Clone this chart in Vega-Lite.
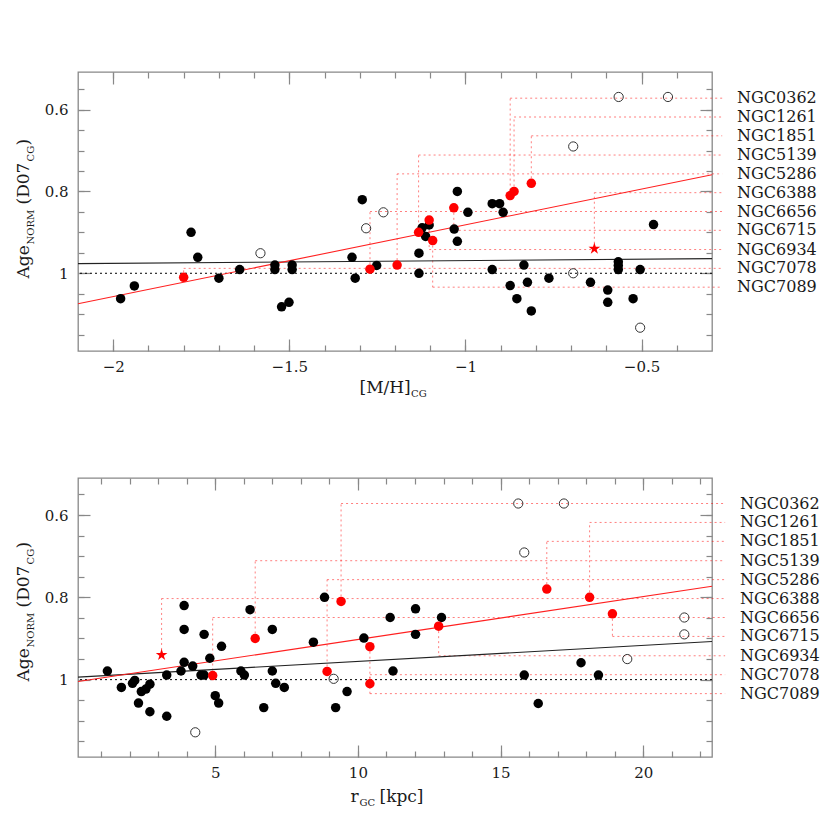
{
  "$schema": "https://vega.github.io/schema/vega-lite/v6.json",
  "autosize": {"type": "pad"},
  "padding": {"left": 13, "top": 70, "right": 5, "bottom": 5},
  "background": "white",
  "config": {
    "view": {"stroke": "#888888", "strokeWidth": 1.3},
    "axis": {"grid": false, "domain": false, "tickColor": "#888888", "tickWidth": 1.2, "labelFont": "DejaVu Serif", "labelFontSize": 15, "labelColor": "#1a1a1a", "titleFont": "DejaVu Serif", "titleFontSize": 17, "titleFontWeight": "normal", "titleColor": "#1a1a1a"},
    "text": {"font": "DejaVu Serif"}
  },
  "datasets": {
    "gc": [
      {"name": "NGC0362", "mh": -0.873, "rgc": 9.41, "age": 0.81, "slot": 0.572, "star": false},
      {"name": "NGC1261", "mh": -0.862, "rgc": 18.12, "age": 0.80, "slot": 0.618, "star": false},
      {"name": "NGC1851", "mh": -0.813, "rgc": 16.62, "age": 0.78, "slot": 0.664, "star": false},
      {"name": "NGC5139", "mh": -1.133, "rgc": 6.40, "age": 0.90, "slot": 0.711, "star": false},
      {"name": "NGC5286", "mh": -1.194, "rgc": 8.92, "age": 0.98, "slot": 0.757, "star": false},
      {"name": "NGC6388", "mh": -0.634, "rgc": 3.12, "age": 0.94, "slot": 0.803, "star": true},
      {"name": "NGC6656", "mh": -1.271, "rgc": 4.91, "age": 0.99, "slot": 0.849, "star": false},
      {"name": "NGC6715", "mh": -1.033, "rgc": 18.92, "age": 0.84, "slot": 0.895, "star": false},
      {"name": "NGC6934", "mh": -1.103, "rgc": 12.83, "age": 0.87, "slot": 0.942, "star": false},
      {"name": "NGC7078", "mh": -1.800, "rgc": 10.42, "age": 1.01, "slot": 0.988, "star": false},
      {"name": "NGC7089", "mh": -1.093, "rgc": 10.42, "age": 0.92, "slot": 1.034, "star": false}
    ],
    "topPts": [
      {"mh": -1.979, "age": 1.062, "kind": "filled"},
      {"mh": -1.940, "age": 1.031, "kind": "filled"},
      {"mh": -1.779, "age": 0.900, "kind": "filled"},
      {"mh": -1.760, "age": 0.961, "kind": "filled"},
      {"mh": -1.700, "age": 1.012, "kind": "filled"},
      {"mh": -1.641, "age": 0.991, "kind": "filled"},
      {"mh": -1.541, "age": 0.980, "kind": "filled"},
      {"mh": -1.541, "age": 0.991, "kind": "filled"},
      {"mh": -1.522, "age": 1.082, "kind": "filled"},
      {"mh": -1.501, "age": 1.071, "kind": "filled"},
      {"mh": -1.492, "age": 0.980, "kind": "filled"},
      {"mh": -1.492, "age": 0.991, "kind": "filled"},
      {"mh": -1.322, "age": 0.961, "kind": "filled"},
      {"mh": -1.313, "age": 1.012, "kind": "filled"},
      {"mh": -1.293, "age": 0.820, "kind": "filled"},
      {"mh": -1.252, "age": 0.981, "kind": "filled"},
      {"mh": -1.132, "age": 0.951, "kind": "filled"},
      {"mh": -1.132, "age": 1.000, "kind": "filled"},
      {"mh": -1.123, "age": 0.889, "kind": "filled"},
      {"mh": -1.103, "age": 0.882, "kind": "filled"},
      {"mh": -1.113, "age": 0.910, "kind": "filled"},
      {"mh": -1.032, "age": 0.892, "kind": "filled"},
      {"mh": -1.023, "age": 0.922, "kind": "filled"},
      {"mh": -1.023, "age": 0.800, "kind": "filled"},
      {"mh": -0.993, "age": 0.851, "kind": "filled"},
      {"mh": -0.924, "age": 0.830, "kind": "filled"},
      {"mh": -0.903, "age": 0.830, "kind": "filled"},
      {"mh": -0.893, "age": 0.851, "kind": "filled"},
      {"mh": -0.924, "age": 0.991, "kind": "filled"},
      {"mh": -0.834, "age": 0.980, "kind": "filled"},
      {"mh": -0.873, "age": 1.030, "kind": "filled"},
      {"mh": -0.824, "age": 1.022, "kind": "filled"},
      {"mh": -0.854, "age": 1.062, "kind": "filled"},
      {"mh": -0.763, "age": 1.012, "kind": "filled"},
      {"mh": -0.645, "age": 1.022, "kind": "filled"},
      {"mh": -0.596, "age": 1.041, "kind": "filled"},
      {"mh": -0.596, "age": 1.071, "kind": "filled"},
      {"mh": -0.566, "age": 0.972, "kind": "filled"},
      {"mh": -0.566, "age": 0.981, "kind": "filled"},
      {"mh": -0.566, "age": 0.991, "kind": "filled"},
      {"mh": -0.504, "age": 0.991, "kind": "filled"},
      {"mh": -0.524, "age": 1.062, "kind": "filled"},
      {"mh": -0.466, "age": 0.881, "kind": "filled"},
      {"mh": -0.813, "age": 1.092, "kind": "filled"},
      {"mh": -1.582, "age": 0.951, "kind": "open"},
      {"mh": -1.282, "age": 0.890, "kind": "open"},
      {"mh": -1.233, "age": 0.851, "kind": "open"},
      {"mh": -0.565, "age": 0.569, "kind": "open"},
      {"mh": -0.425, "age": 0.569, "kind": "open"},
      {"mh": -0.694, "age": 0.690, "kind": "open"},
      {"mh": -0.694, "age": 1.000, "kind": "open"},
      {"mh": -0.504, "age": 1.133, "kind": "open"}
    ],
    "botPts": [
      {"rgc": 1.22, "age": 0.979, "kind": "filled"},
      {"rgc": 1.71, "age": 1.019, "kind": "filled"},
      {"rgc": 2.10, "age": 1.009, "kind": "filled"},
      {"rgc": 2.18, "age": 1.002, "kind": "filled"},
      {"rgc": 2.31, "age": 1.057, "kind": "filled"},
      {"rgc": 2.41, "age": 1.029, "kind": "filled"},
      {"rgc": 2.57, "age": 1.023, "kind": "filled"},
      {"rgc": 2.71, "age": 1.011, "kind": "filled"},
      {"rgc": 2.71, "age": 1.078, "kind": "filled"},
      {"rgc": 3.30, "age": 1.089, "kind": "filled"},
      {"rgc": 3.30, "age": 0.989, "kind": "filled"},
      {"rgc": 3.91, "age": 0.820, "kind": "filled"},
      {"rgc": 3.91, "age": 0.878, "kind": "filled"},
      {"rgc": 3.91, "age": 0.958, "kind": "filled"},
      {"rgc": 3.80, "age": 0.979, "kind": "filled"},
      {"rgc": 4.21, "age": 0.967, "kind": "filled"},
      {"rgc": 4.50, "age": 0.989, "kind": "filled"},
      {"rgc": 4.61, "age": 0.989, "kind": "filled"},
      {"rgc": 4.61, "age": 0.890, "kind": "filled"},
      {"rgc": 4.81, "age": 0.948, "kind": "filled"},
      {"rgc": 5.00, "age": 1.039, "kind": "filled"},
      {"rgc": 5.12, "age": 1.057, "kind": "filled"},
      {"rgc": 5.22, "age": 0.919, "kind": "filled"},
      {"rgc": 5.90, "age": 0.979, "kind": "filled"},
      {"rgc": 6.02, "age": 0.989, "kind": "filled"},
      {"rgc": 6.22, "age": 0.830, "kind": "filled"},
      {"rgc": 6.70, "age": 1.068, "kind": "filled"},
      {"rgc": 7.00, "age": 0.878, "kind": "filled"},
      {"rgc": 7.00, "age": 0.979, "kind": "filled"},
      {"rgc": 7.12, "age": 1.009, "kind": "filled"},
      {"rgc": 7.42, "age": 1.019, "kind": "filled"},
      {"rgc": 8.44, "age": 0.909, "kind": "filled"},
      {"rgc": 8.83, "age": 0.800, "kind": "filled"},
      {"rgc": 9.22, "age": 1.068, "kind": "filled"},
      {"rgc": 9.62, "age": 1.029, "kind": "filled"},
      {"rgc": 10.21, "age": 0.899, "kind": "filled"},
      {"rgc": 11.13, "age": 0.849, "kind": "filled"},
      {"rgc": 11.23, "age": 0.979, "kind": "filled"},
      {"rgc": 12.02, "age": 0.828, "kind": "filled"},
      {"rgc": 12.02, "age": 0.890, "kind": "filled"},
      {"rgc": 12.93, "age": 0.849, "kind": "filled"},
      {"rgc": 15.83, "age": 0.989, "kind": "filled"},
      {"rgc": 16.32, "age": 1.058, "kind": "filled"},
      {"rgc": 17.82, "age": 0.959, "kind": "filled"},
      {"rgc": 18.43, "age": 0.989, "kind": "filled"},
      {"rgc": 4.30, "age": 1.128, "kind": "open"},
      {"rgc": 9.15, "age": 0.998, "kind": "open"},
      {"rgc": 15.62, "age": 0.572, "kind": "open"},
      {"rgc": 17.22, "age": 0.572, "kind": "open"},
      {"rgc": 15.83, "age": 0.691, "kind": "open"},
      {"rgc": 21.44, "age": 0.849, "kind": "open"},
      {"rgc": 21.44, "age": 0.890, "kind": "open"},
      {"rgc": 19.44, "age": 0.950, "kind": "open"}
    ],
    "topFit": [
      {"fit": "black", "mh": -2.1, "age": 0.9765},
      {"fit": "black", "mh": -0.3, "age": 0.9642},
      {"fit": "red", "mh": -2.1, "age": 1.0745},
      {"fit": "red", "mh": -0.3, "age": 0.759}
    ],
    "botFit": [
      {"fit": "black", "rgc": 0.19, "age": 0.994},
      {"fit": "black", "rgc": 22.41, "age": 0.9075},
      {"fit": "red", "rgc": 0.19, "age": 1.0047},
      {"fit": "red", "rgc": 22.41, "age": 0.773}
    ]
  },
  "spacing": 127,
  "bounds": "flush",
  "resolve": {"scale": {"x": "independent", "y": "independent"}},
  "vconcat": [
    {
      "width": 634,
      "height": 279,
      "resolve": {"axis": {"x": "independent", "y": "independent"}},
      "layer": [
        {
          "data": {"name": "gc"},
          "mark": {"type": "rule", "stroke": "#ff0000", "strokeOpacity": 0.5, "strokeDash": [2, 3], "strokeWidth": 1},
          "encoding": {
            "x": {"field": "mh", "type": "quantitative", "scale": {"domain": [-2.1, -0.3], "nice": false, "zero": false},
              "axis": {"orient": "bottom", "values": [-2, -1.5, -1, -0.5], "format": "~g", "tickSize": -12, "labelPadding": 20, "title": "[M/H]", "titleX": 281, "titleY": 41, "titleAlign": "left", "titleBaseline": "alphabetic", "titleAngle": 0}},
            "y": {"field": "age", "type": "quantitative", "scale": {"domain": [0.508, 1.19], "reverse": true, "nice": false, "zero": false},
              "axis": {"orient": "left", "values": [0.6, 0.8, 1], "format": ".1~f", "tickSize": -12, "labelPadding": 22, "title": "Age", "titleX": -50, "titleY": 206, "titleAngle": 270, "titleAlign": "left", "titleBaseline": "alphabetic"}},
            "y2": {"field": "slot"}
          }
        },
        {
          "data": {"name": "gc"},
          "mark": {"type": "rule", "stroke": "#ff0000", "strokeOpacity": 0.5, "strokeDash": [2, 3], "strokeWidth": 1},
          "encoding": {
            "x": {"field": "mh", "type": "quantitative",
              "axis": {"orient": "bottom", "values": [-2, -1.9, -1.8, -1.7, -1.6, -1.5, -1.4, -1.3, -1.2, -1.1, -1, -0.9, -0.8, -0.7, -0.6, -0.5, -0.4], "tickSize": -6, "labels": false, "title": "CG", "titleFontSize": 10, "titleX": 332.5, "titleY": 45, "titleAlign": "left", "titleBaseline": "alphabetic", "titleAngle": 0}},
            "x2": {"datum": -0.271},
            "y": {"field": "slot", "type": "quantitative",
              "axis": {"orient": "left", "values": [0.55, 0.6, 0.65, 0.7, 0.75, 0.8, 0.85, 0.9, 0.95, 1, 1.05, 1.1, 1.15], "tickSize": -6, "labels": false, "title": "NORM", "titleFontSize": 10, "titleX": -45, "titleY": 172, "titleAngle": 270, "titleAlign": "left", "titleBaseline": "alphabetic"}}
          }
        },
        {
          "data": {"values": [{}]},
          "mark": {"type": "rule", "stroke": "#000000", "strokeDash": [2, 3], "strokeWidth": 1},
          "encoding": {"y": {"datum": 1, "type": "quantitative", "axis": null}}
        },
        {
          "data": {"name": "topFit"},
          "transform": [{"filter": "datum.fit === 'black'"}],
          "mark": {"type": "line", "stroke": "#222222", "strokeWidth": 1.1},
          "encoding": {
            "x": {"field": "mh", "type": "quantitative",
              "axis": {"orient": "top", "values": [-2, -1.5, -1, -0.5], "tickSize": -12, "labels": false, "title": "(D07\u2003)", "titleX": -50, "titleY": 132, "titleAngle": 270, "titleAlign": "left", "titleBaseline": "alphabetic"}},
            "y": {"field": "age", "type": "quantitative",
              "axis": {"orient": "right", "values": [0.6, 0.8, 1], "tickSize": -12, "labels": false, "title": null}}
          }
        },
        {
          "data": {"name": "topFit"},
          "transform": [{"filter": "datum.fit === 'red'"}],
          "mark": {"type": "line", "stroke": "#ff2020", "strokeWidth": 1.1},
          "encoding": {
            "x": {"field": "mh", "type": "quantitative",
              "axis": {"orient": "top", "values": [-2, -1.9, -1.8, -1.7, -1.6, -1.5, -1.4, -1.3, -1.2, -1.1, -1, -0.9, -0.8, -0.7, -0.6, -0.5, -0.4], "tickSize": -6, "labels": false, "title": "CG", "titleFontSize": 10, "titleX": -45, "titleY": 89, "titleAngle": 270, "titleAlign": "left", "titleBaseline": "alphabetic"}},
            "y": {"field": "age", "type": "quantitative",
              "axis": {"orient": "right", "values": [0.55, 0.6, 0.65, 0.7, 0.75, 0.8, 0.85, 0.9, 0.95, 1, 1.05, 1.1, 1.15], "tickSize": -6, "labels": false, "title": null}}
          }
        },
        {
          "data": {"name": "topPts"},
          "transform": [{"filter": "datum.kind === 'filled'"}],
          "mark": {"type": "circle", "size": 90, "color": "#000000", "opacity": 1},
          "encoding": {
            "x": {"field": "mh", "type": "quantitative", "axis": null},
            "y": {"field": "age", "type": "quantitative", "axis": null}
          }
        },
        {
          "data": {"name": "topPts"},
          "transform": [{"filter": "datum.kind === 'open'"}],
          "mark": {"type": "point", "shape": "circle", "filled": false, "size": 85, "color": "#333333", "strokeWidth": 1, "opacity": 1},
          "encoding": {
            "x": {"field": "mh", "type": "quantitative", "axis": null},
            "y": {"field": "age", "type": "quantitative", "axis": null}
          }
        },
        {
          "data": {"name": "gc"},
          "transform": [{"filter": "!datum.star"}],
          "mark": {"type": "circle", "size": 90, "color": "#ff0000", "opacity": 1},
          "encoding": {
            "x": {"field": "mh", "type": "quantitative", "axis": null},
            "y": {"field": "age", "type": "quantitative", "axis": null}
          }
        },
        {
          "data": {"name": "gc"},
          "transform": [{"filter": "datum.star"}],
          "mark": {"type": "point", "shape": "M0,-1L0.2245,-0.309L0.951,-0.309L0.363,0.118L0.588,0.809L0,0.382L-0.588,0.809L-0.363,0.118L-0.951,-0.309L-0.2245,-0.309Z", "filled": true, "size": 150, "color": "#ff0000", "opacity": 1},
          "encoding": {
            "x": {"field": "mh", "type": "quantitative", "axis": null},
            "y": {"field": "age", "type": "quantitative", "axis": null}
          }
        },
        {
          "data": {"name": "gc"},
          "mark": {"type": "text", "align": "left", "baseline": "middle", "fontSize": 16, "font": "DejaVu Serif", "color": "#1a1a1a"},
          "encoding": {
            "x": {"datum": -0.229, "type": "quantitative", "axis": null},
            "y": {"field": "slot", "type": "quantitative", "axis": null},
            "text": {"field": "name"}
          }
        }
      ]
    },
    {
      "width": 634,
      "height": 279,
      "resolve": {"axis": {"x": "independent", "y": "independent"}},
      "layer": [
        {
          "data": {"name": "gc"},
          "mark": {"type": "rule", "stroke": "#ff0000", "strokeOpacity": 0.5, "strokeDash": [2, 3], "strokeWidth": 1},
          "encoding": {
            "x": {"field": "rgc", "type": "quantitative", "scale": {"domain": [0.19, 22.41], "nice": false, "zero": false},
              "axis": {"orient": "bottom", "values": [5, 10, 15, 20], "format": "~g", "tickSize": -12, "labelPadding": 20, "title": "r", "titleX": 272, "titleY": 44, "titleAlign": "left", "titleBaseline": "alphabetic", "titleAngle": 0}},
            "y": {"field": "age", "type": "quantitative", "scale": {"domain": [0.51, 1.188], "reverse": true, "nice": false, "zero": false},
              "axis": {"orient": "left", "values": [0.6, 0.8, 1], "format": ".1~f", "tickSize": -12, "labelPadding": 22, "title": "Age", "titleX": -50, "titleY": 203, "titleAngle": 270, "titleAlign": "left", "titleBaseline": "alphabetic"}},
            "y2": {"field": "slot"}
          }
        },
        {
          "data": {"name": "gc"},
          "mark": {"type": "rule", "stroke": "#ff0000", "strokeOpacity": 0.5, "strokeDash": [2, 3], "strokeWidth": 1},
          "encoding": {
            "x": {"field": "rgc", "type": "quantitative",
              "axis": {"orient": "bottom", "values": [1, 2, 3, 4, 5, 6, 7, 8, 9, 10, 11, 12, 13, 14, 15, 16, 17, 18, 19, 20, 21, 22], "tickSize": -6, "labels": false, "title": "GC", "titleFontSize": 10, "titleX": 281, "titleY": 48, "titleAlign": "left", "titleBaseline": "alphabetic", "titleAngle": 0}},
            "x2": {"datum": 22.87},
            "y": {"field": "slot", "type": "quantitative",
              "axis": {"orient": "left", "values": [0.55, 0.6, 0.65, 0.7, 0.75, 0.8, 0.85, 0.9, 0.95, 1, 1.05, 1.1, 1.15], "tickSize": -6, "labels": false, "title": "NORM", "titleFontSize": 10, "titleX": -45, "titleY": 169, "titleAngle": 270, "titleAlign": "left", "titleBaseline": "alphabetic"}}
          }
        },
        {
          "data": {"values": [{}]},
          "mark": {"type": "rule", "stroke": "#000000", "strokeDash": [2, 3], "strokeWidth": 1},
          "encoding": {"y": {"datum": 1, "type": "quantitative", "axis": null}}
        },
        {
          "data": {"name": "botFit"},
          "transform": [{"filter": "datum.fit === 'black'"}],
          "mark": {"type": "line", "stroke": "#222222", "strokeWidth": 1.1},
          "encoding": {
            "x": {"field": "rgc", "type": "quantitative",
              "axis": {"orient": "top", "values": [5, 10, 15, 20], "tickSize": -12, "labels": false, "title": "(D07\u2003)", "titleX": -50, "titleY": 129, "titleAngle": 270, "titleAlign": "left", "titleBaseline": "alphabetic"}},
            "y": {"field": "age", "type": "quantitative",
              "axis": {"orient": "right", "values": [0.6, 0.8, 1], "tickSize": -12, "labels": false, "title": "[kpc]", "titleX": -333, "titleY": 323, "titleAngle": 0, "titleAlign": "left", "titleBaseline": "alphabetic"}}
          }
        },
        {
          "data": {"name": "botFit"},
          "transform": [{"filter": "datum.fit === 'red'"}],
          "mark": {"type": "line", "stroke": "#ff2020", "strokeWidth": 1.1},
          "encoding": {
            "x": {"field": "rgc", "type": "quantitative",
              "axis": {"orient": "top", "values": [1, 2, 3, 4, 5, 6, 7, 8, 9, 10, 11, 12, 13, 14, 15, 16, 17, 18, 19, 20, 21, 22], "tickSize": -6, "labels": false, "title": "CG", "titleFontSize": 10, "titleX": -45, "titleY": 86, "titleAngle": 270, "titleAlign": "left", "titleBaseline": "alphabetic"}},
            "y": {"field": "age", "type": "quantitative",
              "axis": {"orient": "right", "values": [0.55, 0.6, 0.65, 0.7, 0.75, 0.8, 0.85, 0.9, 0.95, 1, 1.05, 1.1, 1.15], "tickSize": -6, "labels": false, "title": null}}
          }
        },
        {
          "data": {"name": "botPts"},
          "transform": [{"filter": "datum.kind === 'filled'"}],
          "mark": {"type": "circle", "size": 90, "color": "#000000", "opacity": 1},
          "encoding": {
            "x": {"field": "rgc", "type": "quantitative", "axis": null},
            "y": {"field": "age", "type": "quantitative", "axis": null}
          }
        },
        {
          "data": {"name": "botPts"},
          "transform": [{"filter": "datum.kind === 'open'"}],
          "mark": {"type": "point", "shape": "circle", "filled": false, "size": 85, "color": "#333333", "strokeWidth": 1, "opacity": 1},
          "encoding": {
            "x": {"field": "rgc", "type": "quantitative", "axis": null},
            "y": {"field": "age", "type": "quantitative", "axis": null}
          }
        },
        {
          "data": {"name": "gc"},
          "transform": [{"filter": "!datum.star"}],
          "mark": {"type": "circle", "size": 90, "color": "#ff0000", "opacity": 1},
          "encoding": {
            "x": {"field": "rgc", "type": "quantitative", "axis": null},
            "y": {"field": "age", "type": "quantitative", "axis": null}
          }
        },
        {
          "data": {"name": "gc"},
          "transform": [{"filter": "datum.star"}],
          "mark": {"type": "point", "shape": "M0,-1L0.2245,-0.309L0.951,-0.309L0.363,0.118L0.588,0.809L0,0.382L-0.588,0.809L-0.363,0.118L-0.951,-0.309L-0.2245,-0.309Z", "filled": true, "size": 150, "color": "#ff0000", "opacity": 1},
          "encoding": {
            "x": {"field": "rgc", "type": "quantitative", "axis": null},
            "y": {"field": "age", "type": "quantitative", "axis": null}
          }
        },
        {
          "data": {"name": "gc"},
          "mark": {"type": "text", "align": "left", "baseline": "middle", "fontSize": 16, "font": "DejaVu Serif", "color": "#1a1a1a"},
          "encoding": {
            "x": {"datum": 23.39, "type": "quantitative", "axis": null},
            "y": {"field": "slot", "type": "quantitative", "axis": null},
            "text": {"field": "name"}
          }
        }
      ]
    }
  ]
}
